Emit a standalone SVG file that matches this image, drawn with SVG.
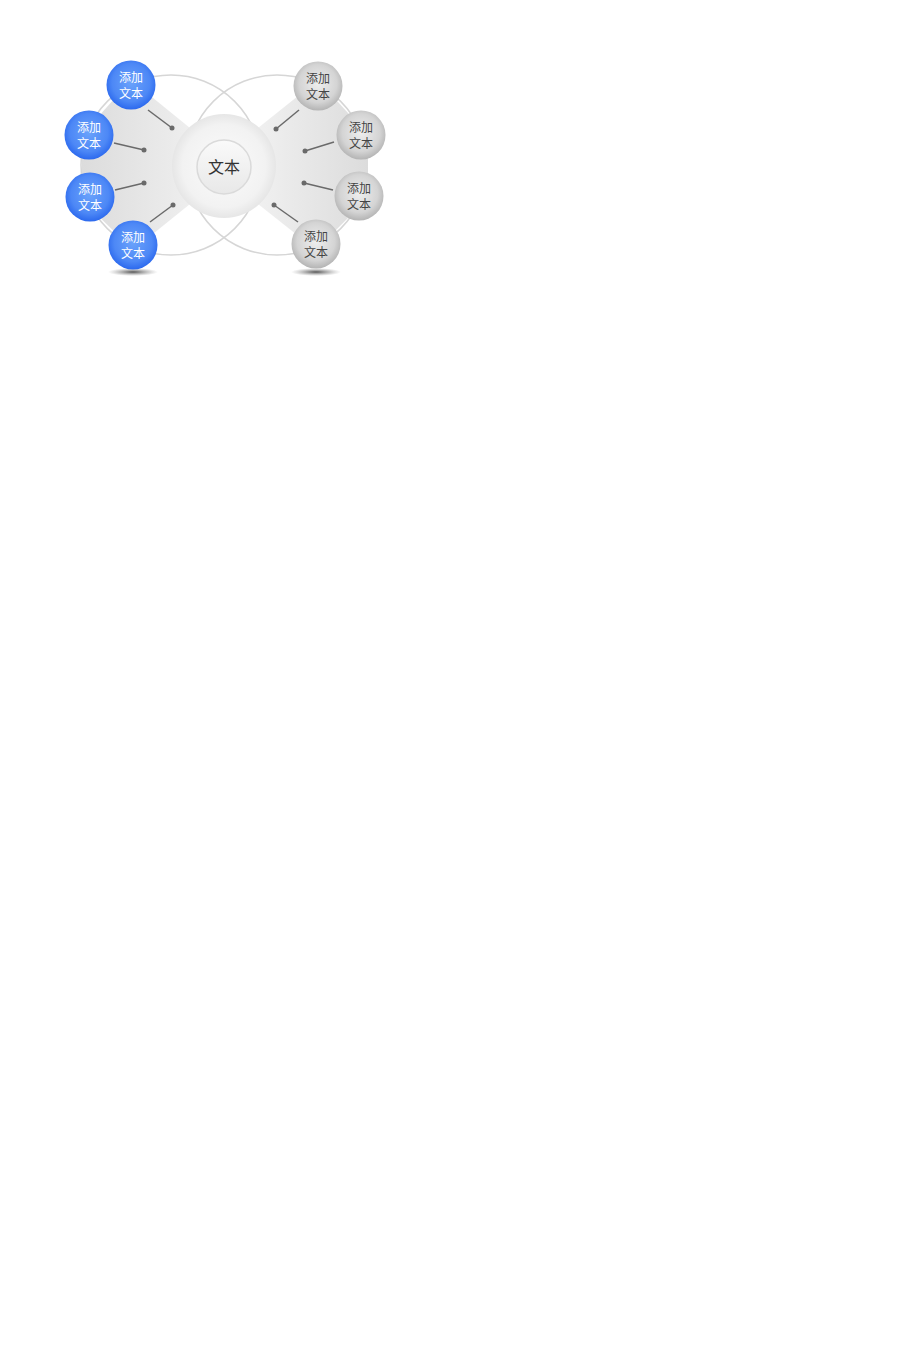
<svg xmlns="http://www.w3.org/2000/svg" width="900" height="1350" viewBox="0 0 900 1350">
<defs>
<style>
.arc{fill:none;stroke:#d6d6d6;stroke-width:1.5}
.con{stroke:#6a6a6a;stroke-width:1.5;fill:none}
.dot{fill:#6a6a6a}
.bt{font-family:"Noto Sans CJK SC","Noto Sans",sans-serif;font-size:12px;fill:#ffffff;text-anchor:middle}
.gt{font-family:"Noto Sans CJK SC","Noto Sans",sans-serif;font-size:12px;fill:#444444;text-anchor:middle}
.ct{font-family:"Noto Sans CJK SC","Noto Sans",sans-serif;font-size:16px;fill:#333333;text-anchor:middle}
</style>
<radialGradient id="blue" cx="50%" cy="45%" r="55%">
<stop offset="0" stop-color="#6aa2fb"/>
<stop offset="0.7" stop-color="#4d88f6"/>
<stop offset="1" stop-color="#2c69ee"/>
</radialGradient>
<radialGradient id="grey" cx="50%" cy="45%" r="55%">
<stop offset="0" stop-color="#eeeeee"/>
<stop offset="0.7" stop-color="#d4d4d4"/>
<stop offset="1" stop-color="#b4b4b4"/>
</radialGradient>
<radialGradient id="big" cx="50%" cy="50%" r="50%">
<stop offset="0" stop-color="#fbfbfb"/>
<stop offset="0.8" stop-color="#f2f2f2"/>
<stop offset="1" stop-color="#e6e6e6"/>
</radialGradient>
<linearGradient id="inner" x1="0" y1="0" x2="0" y2="1">
<stop offset="0" stop-color="#fafafa"/>
<stop offset="1" stop-color="#e8e8e8"/>
</linearGradient>
<linearGradient id="bgL" x1="0" y1="0" x2="1" y2="0">
<stop offset="0" stop-color="#dcdcdc"/>
<stop offset="1" stop-color="#eeeeee"/>
</linearGradient>
<linearGradient id="bgR" x1="1" y1="0" x2="0" y2="0">
<stop offset="0" stop-color="#dcdcdc"/>
<stop offset="1" stop-color="#f0f0f0"/>
</linearGradient>
<radialGradient id="shadow" cx="50%" cy="50%" r="50%">
<stop offset="0" stop-color="#555555"/>
<stop offset="1" stop-color="#999999" stop-opacity="0"/>
</radialGradient>
</defs>
<rect width="900" height="1350" fill="#ffffff"/>
<g id="background">
<circle class="arc" cx="171" cy="165" r="90"/>
<circle class="arc" cx="277" cy="165" r="90"/>
<polygon points="131,80 190,128 190,204 133,250 82,200 82,135" fill="url(#bgL)"/>
<polygon points="318,80 368,135 368,198 316,250 258,204 258,128" fill="url(#bgR)"/>
</g>
<g id="center">
<circle cx="224" cy="166" r="52" fill="url(#big)"/>
<circle cx="224" cy="167" r="27" fill="url(#inner)" stroke="#dadada" stroke-width="1.5"/>
<text class="ct" x="224" y="173">文本</text>
</g>
<g id="connectors">
<line class="con" x1="148" y1="110" x2="172" y2="128"/><circle class="dot" cx="172" cy="128" r="2.5"/>
<line class="con" x1="114" y1="143" x2="144" y2="150"/><circle class="dot" cx="144" cy="150" r="2.5"/>
<line class="con" x1="115" y1="190" x2="144" y2="183"/><circle class="dot" cx="144" cy="183" r="2.5"/>
<line class="con" x1="150" y1="222" x2="173" y2="205"/><circle class="dot" cx="173" cy="205" r="2.5"/>
<line class="con" x1="299" y1="110" x2="276" y2="129"/><circle class="dot" cx="276" cy="129" r="2.5"/>
<line class="con" x1="334" y1="142" x2="305" y2="151"/><circle class="dot" cx="305" cy="151" r="2.5"/>
<line class="con" x1="333" y1="190" x2="304" y2="183"/><circle class="dot" cx="304" cy="183" r="2.5"/>
<line class="con" x1="298" y1="222" x2="274" y2="205"/><circle class="dot" cx="274" cy="205" r="2.5"/>
</g>
<g id="shadows">
<ellipse cx="133" cy="272" rx="25" ry="4" fill="url(#shadow)"/>
<ellipse cx="316" cy="272" rx="25" ry="4" fill="url(#shadow)"/>
</g>
<g id="node-l1"><circle cx="131" cy="85" r="24.5" fill="url(#blue)"/><text class="bt" x="131" y="82">添加</text><text class="bt" x="131" y="98">文本</text></g>
<g id="node-l2"><circle cx="89" cy="135" r="24.5" fill="url(#blue)"/><text class="bt" x="89" y="132">添加</text><text class="bt" x="89" y="148">文本</text></g>
<g id="node-l3"><circle cx="90" cy="197" r="24.5" fill="url(#blue)"/><text class="bt" x="90" y="194">添加</text><text class="bt" x="90" y="210">文本</text></g>
<g id="node-l4"><circle cx="133" cy="245" r="24.5" fill="url(#blue)"/><text class="bt" x="133" y="242">添加</text><text class="bt" x="133" y="258">文本</text></g>
<g id="node-r1"><circle cx="318" cy="86" r="24.5" fill="url(#grey)"/><text class="gt" x="318" y="83">添加</text><text class="gt" x="318" y="99">文本</text></g>
<g id="node-r2"><circle cx="361" cy="135" r="24.5" fill="url(#grey)"/><text class="gt" x="361" y="132">添加</text><text class="gt" x="361" y="148">文本</text></g>
<g id="node-r3"><circle cx="359" cy="196" r="24.5" fill="url(#grey)"/><text class="gt" x="359" y="193">添加</text><text class="gt" x="359" y="209">文本</text></g>
<g id="node-r4"><circle cx="316" cy="244" r="24.5" fill="url(#grey)"/><text class="gt" x="316" y="241">添加</text><text class="gt" x="316" y="257">文本</text></g>
</svg>
